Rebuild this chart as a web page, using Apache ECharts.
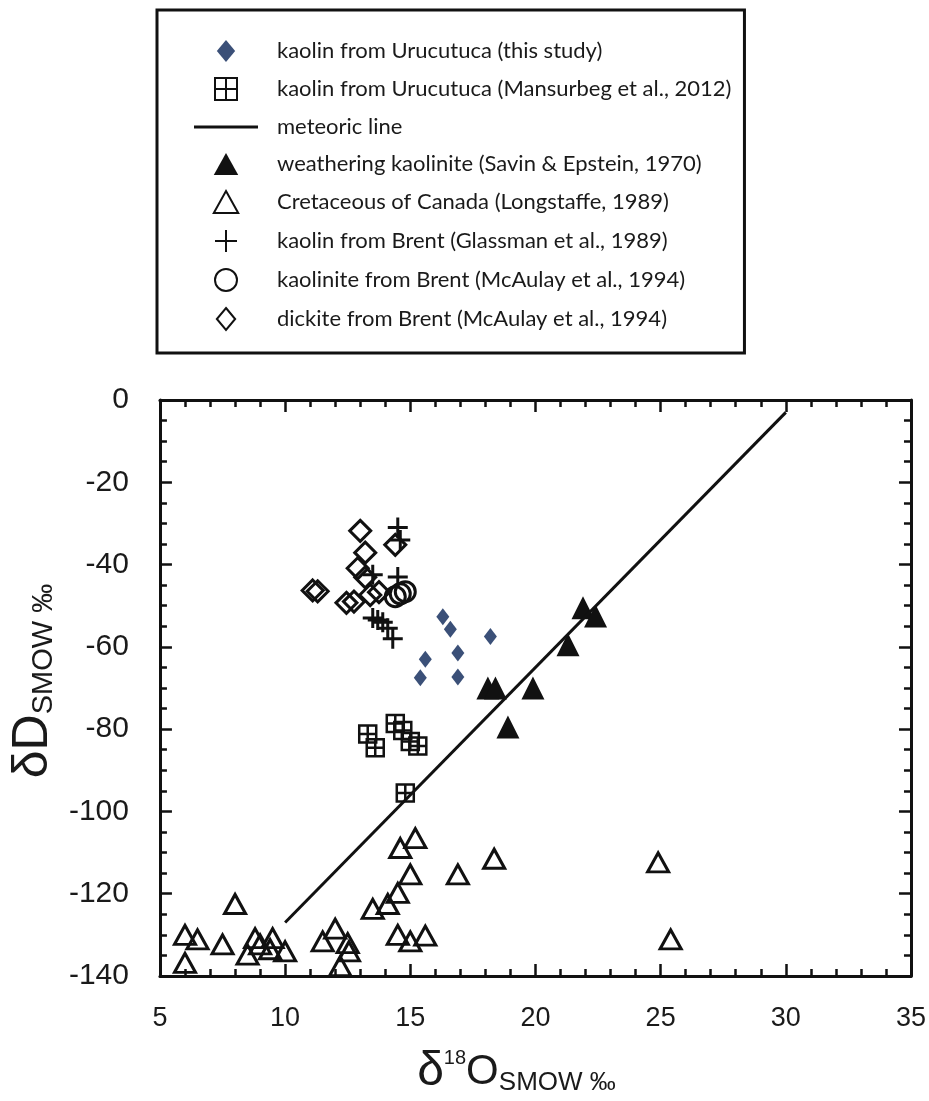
<!DOCTYPE html>
<html>
<head>
<meta charset="utf-8">
<title>dD vs d18O of kaolin</title>
<script src="https://cdn.jsdelivr.net/npm/echarts@6/dist/echarts.min.js"></script>
<style>
  html, body { margin: 0; padding: 0; background: #fff; }
  #main { width: 929px; height: 1101px; }
</style>
</head>
<body>
<div id="main"></div>
<script>
// values, [d18O, dD] in permil
var thisStudy = [[16.3, -52.7], [16.6, -55.7], [18.2, -57.5], [15.6, -63], [16.9, -61.5], [15.4, -67.5], [16.9, -67.3]];
var mansurbeg = [[13.3, -81.2], [13.6, -84.5], [14.4, -78.6], [14.7, -80.3], [15.0, -83], [15.3, -84.1], [14.8, -95.5]];
var meteoric = [[10, -127], [30, -3]];
var savin = [[21.9, -50.5], [22.4, -52.5], [21.3, -59.5], [18.1, -70], [18.4, -70], [19.9, -70], [18.9, -79.5]];
var longstaffe = [[15.2, -106.5], [14.6, -108.9], [16.9, -115.3], [15.0, -115.3], [14.5, -119.8], [14.1, -122.5],
  [13.5, -123.7], [8.0, -122.5], [6.0, -130], [6.5, -131.1], [7.5, -132.3], [6.0, -136.8], [8.5, -134.8],
  [8.8, -130.8], [9.0, -132.3], [9.5, -130.8], [9.4, -133.5], [10.0, -134], [11.5, -131.6], [12.0, -128.5],
  [12.2, -137.6], [12.5, -132], [12.55, -134], [14.5, -130], [15.0, -131.6], [15.6, -130.2], [18.35, -111.5],
  [24.9, -112.4], [25.4, -131.1]];
var glassman = [[14.5, -31], [14.6, -34], [13.5, -42.5], [14.5, -43], [13.5, -53], [13.7, -53.5], [13.9, -54], [14.1, -55.5], [14.3, -58]];
var mcaulayKaol = [[14.4, -47.8], [14.6, -47.1], [14.8, -46.6]];
var mcaulayDick = [[13.0, -31.8], [14.4, -35.2], [13.2, -37.1], [12.9, -40.9], [13.2, -43.1], [11.1, -46.3], [11.3, -46.5],
  [12.45, -49.3], [12.75, -49.0], [13.4, -47.4], [13.75, -46.7]];

var names = [
  'kaolin from Urucutuca (this study)',
  'kaolin from Urucutuca (Mansurbeg et al., 2012)',
  'meteoric line',
  'weathering kaolinite (Savin & Epstein, 1970)',
  'Cretaceous of Canada (Longstaffe, 1989)',
  'kaolin from Brent (Glassman et al., 1989)',
  'kaolinite from Brent (McAulay et al., 1994)',
  'dickite from Brent (McAulay et al., 1994)'
];
var xRange = [5, 35, 5];     // min, max, step
var yRange = [-140, 0, 20];

var ink = '#111';
var diamond = 'path://M5,0L10,6L5,12L0,6Z';
var triangle = 'path://M5,0L10,9L0,9Z';
var gridSquare = 'path://M0,0H10V10H0Z M5,0V10 M0,5H10';
var plus = 'path://M5,0V10 M0,5H10';
var hollow = { color: 'rgba(0,0,0,0)', borderColor: ink, borderWidth: 3, opacity: 1 };

var sans = '"Liberation Sans", Arial, sans-serif';

var tickStyle = { color: ink, width: 2.5 };
function frameAxis(pos, range, minorSplit, showLabel) {
  return {
    type: 'value', position: pos,
    min: range[0], max: range[1], interval: range[2],
    axisLine: { show: true, onZero: false, lineStyle: { color: ink, width: 3 } },
    axisTick: { show: true, inside: true, length: 12, lineStyle: tickStyle },
    minorTick: { show: true, splitNumber: minorSplit, length: 7, lineStyle: tickStyle },
    splitLine: { show: false },
    axisLabel: { show: showLabel }
  };
}

var xBottom = frameAxis('bottom', xRange, 5, true);
xBottom.axisLabel = { margin: 29, fontSize: 27, color: '#1a1a1a', fontFamily: sans };
xBottom.name = '{a|δ}{b|18}{o|O}{c|SMOW ‰}';
xBottom.nameLocation = 'middle';
xBottom.nameGap = 72;
xBottom.nameTextStyle = {
  color: '#1a1a1a',
  padding: [0, 38, 0, 0],
  rich: {
    a: { fontSize: 48, fontFamily: sans, color: '#1a1a1a' },
    o: { fontSize: 42, fontFamily: sans, color: '#1a1a1a' },
    b: { fontSize: 20, fontFamily: sans, color: '#1a1a1a', verticalAlign: 'top' },
    c: { fontSize: 26, fontFamily: sans, color: '#1a1a1a', verticalAlign: 'bottom' }
  }
};

var yLeft = frameAxis('left', yRange, 4, true);
yLeft.axisLabel = { margin: 31, fontSize: 30, color: '#1a1a1a', fontFamily: sans };
yLeft.name = '{a|δD}{c|SMOW ‰}';
yLeft.nameLocation = 'middle';
yLeft.nameRotate = 90;
yLeft.nameGap = 98;
yLeft.nameTextStyle = {
  color: '#1a1a1a',
  padding: [0, 0, 0, 14],
  rich: {
    a: { fontSize: 50, fontFamily: sans, color: '#1a1a1a' },
    c: { fontSize: 29, fontFamily: sans, color: '#1a1a1a', verticalAlign: 'bottom' }
  }
};

var legendData = names.map(function (n) { return { name: n }; });
legendData[2].icon = 'path://M0,0H64V3H0Z';

var myChart = echarts.init(document.getElementById('main'));
var option = {
  animation: false,
  backgroundColor: '#fff',
  legend: {
    orient: 'vertical',
    left: 157, top: 10,
    padding: [30, 13, 22, 37],
    itemWidth: 64, itemHeight: 22, itemGap: 15,
    borderColor: ink, borderWidth: 3,
    symbolKeepAspect: true,
    selectedMode: false,
    textStyle: { fontSize: 22, fontFamily: 'Lato, sans-serif', color: '#1a1a1a', padding: [0, 0, 0, 14] },
    data: legendData
  },
  grid: { left: 157, right: 17, top: 400, bottom: 116 },
  xAxis: [xBottom, frameAxis('top', xRange, 5, false)],
  yAxis: [yLeft, frameAxis('right', yRange, 4, false)],
  series: [
    { name: names[0], type: 'scatter', data: thisStudy, symbol: diamond, symbolSize: [13, 17],
      itemStyle: { color: '#3b5078', opacity: 1 } },
    { name: names[1], type: 'scatter', data: mansurbeg, symbol: gridSquare, symbolSize: 17,
      itemStyle: { color: 'rgba(0,0,0,0)', borderColor: ink, borderWidth: 2.5, opacity: 1 } },
    { name: names[2], type: 'line', data: meteoric, symbol: 'none',
      lineStyle: { color: ink, width: 3 }, itemStyle: { color: ink } },
    { name: names[3], type: 'scatter', data: savin, symbol: triangle, symbolSize: 23,
      itemStyle: { color: ink, opacity: 1 } },
    { name: names[4], type: 'scatter', data: longstaffe, symbol: triangle, symbolSize: [21, 19],
      itemStyle: hollow },
    { name: names[5], type: 'scatter', data: glassman, symbol: plus, symbolSize: 20,
      itemStyle: hollow },
    { name: names[6], type: 'scatter', data: mcaulayKaol, symbol: 'circle', symbolSize: 20,
      itemStyle: hollow },
    { name: names[7], type: 'scatter', data: mcaulayDick, symbol: diamond, symbolSize: 21,
      itemStyle: hollow }
  ]
};
myChart.setOption(option);
</script>
</body>
</html>
